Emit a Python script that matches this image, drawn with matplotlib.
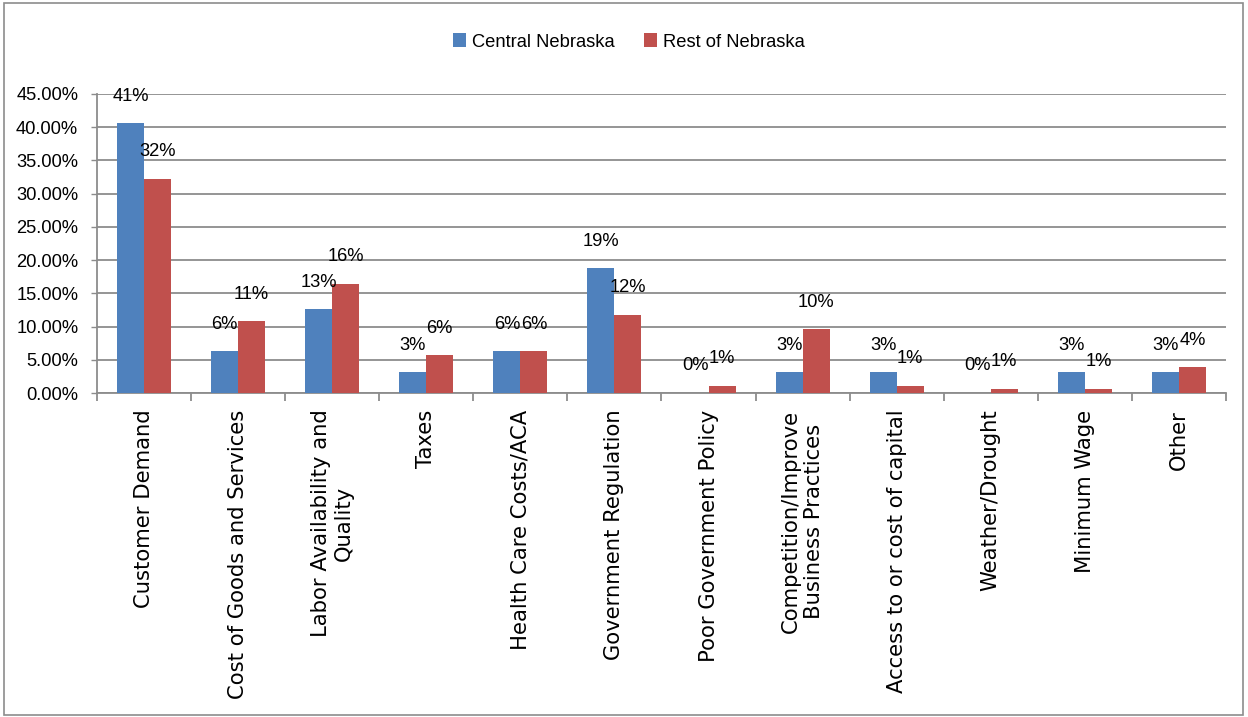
import matplotlib
matplotlib.use("Agg")
import matplotlib.pyplot as plt
import numpy as np
from matplotlib.patches import Rectangle

categories = ["Customer Demand", "Cost of Goods and Services",
              "Labor Availability and\nQuality", "Taxes", "Health Care Costs/ACA",
              "Government Regulation", "Poor Government Policy",
              "Competition/Improve\nBusiness Practices", "Access to or cost of capital",
              "Weather/Drought", "Minimum Wage", "Other"]
central = [40.6, 6.3, 12.6, 3.1, 6.3, 18.8, 0.0, 3.1, 3.1, 0.0, 3.1, 3.1]
rest = [32.2, 10.8, 16.4, 5.7, 6.3, 11.8, 1.1, 9.6, 1.1, 0.6, 0.6, 3.9]
series_names = ["Central Nebraska", "Rest of Nebraska"]
yticks = [0, 5, 10, 15, 20, 25, 30, 35, 40, 45]

BLUE = "#4F81BD"
RED = "#C0504D"
GRID = "#8C8C8C"
HFONT = ["Liberation Sans", "DejaVu Sans"]
HSIZE = 13.2

fig = plt.figure(figsize=(12.48, 7.17), dpi=100)
ax = fig.add_axes([97/1248, 1-393/717, (1226-97)/1248, (393-94)/717])

x = np.arange(len(categories))
w = 0.287
b1 = ax.bar(x - w/2, central, w, color=BLUE, label=series_names[0], zorder=3)
b2 = ax.bar(x + w/2, rest, w, color=RED, label=series_names[1], zorder=3)

for bars, vals in ((b1, central), (b2, rest)):
    for r, v in zip(bars, vals):
        ax.annotate(f"{v:.0f}%", (r.get_x() + r.get_width()/2, v),
                    xytext=(0, 19.5), textcoords="offset points",
                    ha="center", va="center", fontsize=HSIZE, family=HFONT, zorder=4)

ax.set_xlim(-0.5, len(categories) - 0.5)
ax.set_ylim(0, 45)
ax.set_yticks(yticks)
ax.set_yticklabels([f"{t:.2f}%" for t in yticks], family=HFONT, fontsize=HSIZE)
ax.yaxis.grid(True, color=GRID, linewidth=1.3, zorder=0)
ax.tick_params(axis="y", length=4.5, color=GRID, width=1, pad=9)

ax.set_xticks(x)
ax.set_xticklabels(categories, rotation=90, ha="center", va="top",
                   multialignment="center", family="DejaVu Sans", fontsize=15.2)
ax.tick_params(axis="x", which="major", length=0, pad=12)
ax.set_xticks(np.arange(-0.5, len(categories)), minor=True)
ax.tick_params(axis="x", which="minor", length=6, color=GRID, width=1.3)

for s in ("top", "right"):
    ax.spines[s].set_visible(False)
for s in ("left", "bottom"):
    ax.spines[s].set_color(GRID)
    ax.spines[s].set_linewidth(1.3)

leg = fig.legend(loc="center", bbox_to_anchor=(629/1248, 1-42/717), ncol=2,
                 frameon=False, prop={"family": HFONT, "size": HSIZE},
                 handlelength=0.7, handleheight=0.8, handletextpad=0.35,
                 columnspacing=1.6)

fig.patches.append(Rectangle((4/1248, 2/717), 1239/1248, 712/717,
                             transform=fig.transFigure, fill=False,
                             edgecolor="#8C8C8C", linewidth=1.2))

fig.savefig("out.png", dpi=100, facecolor="white")
